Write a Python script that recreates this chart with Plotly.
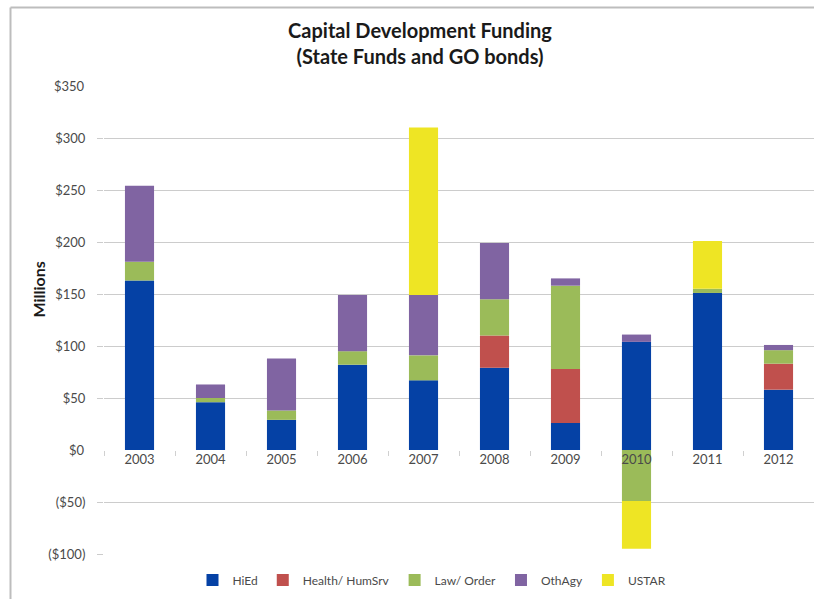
import plotly.graph_objects as go

years = ["2003", "2004", "2005", "2006", "2007", "2008", "2009", "2010", "2011", "2012"]
hied = [163, 46, 29, 82, 67, 79, 26, 104, 151, 58]
health = [0, 0, 0, 0, 0, 31, 52, 0, 0, 25]
law = [18, 4, 9, 13, 24, 35, 80, -49, 4, 13]
othagy = [73, 13, 50, 54, 58, 54, 7, 7, 0, 5]
ustar = [0, 0, 0, 0, 161, 0, 0, -46, 46, 0]

series_names = ["HiEd", "Health/ HumSrv", "Law/ Order", "OthAgy", "USTAR"]
series_values = [hied, health, law, othagy, ustar]
series_colors = ["#0541A5", "#C0504D", "#9BBB59", "#8064A2", "#EEE524"]

# ticks that carry a gridline, and the two label-only ticks ($0 and $350)
grid_tickvals = [-100, -50, 50, 100, 150, 200, 250, 300]
grid_ticktext = ["($100)", "($50)", "$50", "$100", "$150", "$200", "$250", "$300"]
plain_tickvals = [0, 350]
plain_ticktext = ["$0", "$350"]

W, H = 814, 599
ML, MR, MT, MB = 104, 0, 86, 45
PW, PH = W - ML - MR, H - MT - MB

def px_x(px):
    return (px - ML) / PW

def px_y(py):
    return (H - MB - py) / PH

FONT = "Lato, 'Open Sans', sans-serif"
TICK_COLOR = "#4a4a4a"

fig = go.Figure()
for name, vals, col in zip(series_names, series_values, series_colors):
    fig.add_trace(go.Bar(x=years, y=vals, name=name, marker=dict(color=col, line=dict(width=0))))

ymin, ymax = -100, 350

annotations = [
    dict(text=t, x=0, xref="paper", y=v, yref="y", xanchor="right", yanchor="middle",
         xshift=-17, showarrow=False, font=dict(size=13, color=TICK_COLOR))
    for v, t in zip(plain_tickvals, plain_ticktext)
]
annotations.append(
    dict(text="<b>Millions</b>", x=px_x(37.5), xref="paper", y=px_y(290), yref="paper",
         textangle=-90, showarrow=False, xanchor="center", yanchor="middle",
         font=dict(size=16, color="#1a1a1a"))
)

fig.update_layout(
    width=W, height=H,
    margin=dict(l=ML, r=MR, t=MT, b=MB, autoexpand=False),
    barmode="relative",
    bargap=0.59,
    plot_bgcolor="white",
    paper_bgcolor="white",
    font=dict(family=FONT, size=13, color=TICK_COLOR),
    title=dict(
        text="<b>Capital Development Funding<br>(State Funds and GO bonds)</b>",
        x=420 / W, xref="container", xanchor="center",
        y=1 - 38 / H, yref="container", yanchor="middle",
        font=dict(family=FONT, size=20, color="#1a1a1a"),
    ),
    xaxis=dict(
        type="category",
        anchor="free",
        position=(0 - ymin) / (ymax - ymin),
        showgrid=False, zeroline=False, showline=False,
        ticks="outside", tickson="boundaries", ticklen=5, tickcolor="#D0D0D0",
        tickfont=dict(size=13, color=TICK_COLOR),
        range=[-0.5, 9.5],
    ),
    yaxis=dict(
        range=[ymin, ymax],
        tickvals=grid_tickvals, ticktext=grid_ticktext,
        showgrid=True, gridcolor="#CCCCCC", gridwidth=1,
        zeroline=False, showline=False,
        ticks="outside", ticklen=6, tickcolor="#CCCCCC",
        ticklabelstandoff=9,
        tickfont=dict(size=13, color=TICK_COLOR),
    ),
    legend=dict(
        orientation="h",
        xref="container", x=432 / W, xanchor="center",
        yref="container", y=(H - 580) / H, yanchor="middle",
        font=dict(size=12, color=TICK_COLOR),
        traceorder="normal",
        itemwidth=30,
    ),
    annotations=annotations,
    shapes=[
        dict(type="line", xref="paper", yref="paper",
             x0=px_x(10.5), x1=px_x(10.5), y0=px_y(610), y1=px_y(7.5),
             line=dict(color="#BDBDBD", width=2)),
        dict(type="line", xref="paper", yref="paper",
             x0=px_x(10.5), x1=px_x(830), y0=px_y(7.5), y1=px_y(7.5),
             line=dict(color="#BDBDBD", width=2)),
    ],
)

fig.write_html("out.html")
